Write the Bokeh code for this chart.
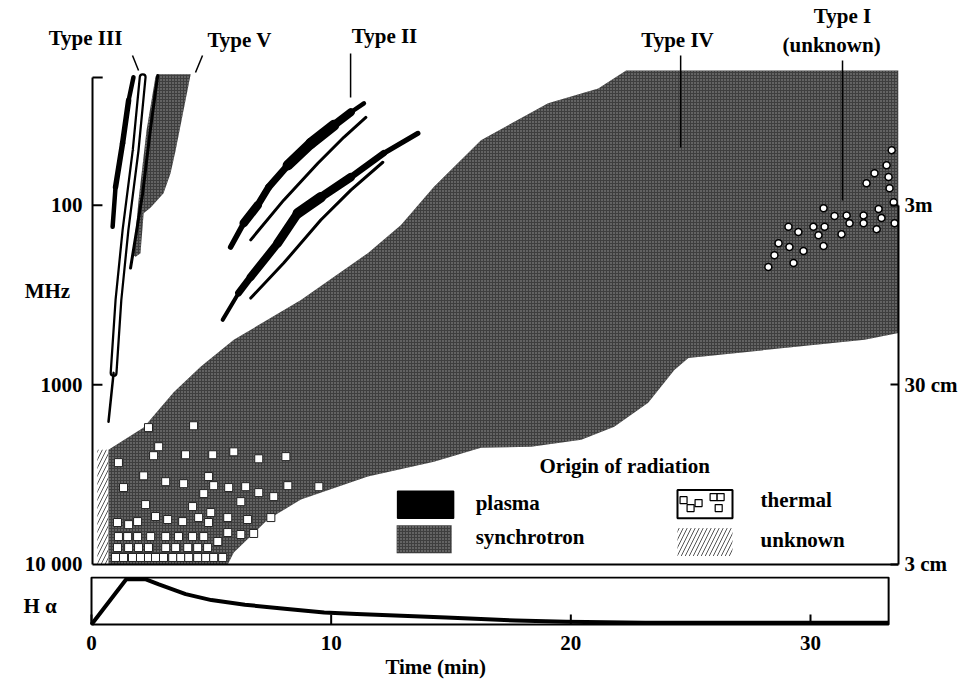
import numpy as np
from bokeh.plotting import figure
from bokeh.models import Range1d, LinearAxis, FixedTicker
from bokeh.core.properties import value
from bokeh.layouts import column
from bokeh.embed import file_html
from bokeh.resources import INLINE

FONT = "Liberation Serif"

# ---------------- data (time in min, frequency in MHz) ----------------
# synchrotron continuum (Type IV) outline
sync_t = [0.66, 2.11, 3.35, 4.46, 5.83, 8.60, 11.36, 12.73, 14.09, 16.03, 18.80, 20.87, 22.02, 33.26,
          33.26, 31.86, 24.59, 24.01, 22.93, 21.53, 20.17, 18.10, 16.03, 14.09, 11.36, 8.60, 7.23,
          5.83, 5.58, 0.66]
sync_f = [2300, 1730, 1100, 794, 562, 337, 185, 129, 79, 43.5, 27.1, 22.4, 17.8, 17.8,
          514, 562, 708, 826, 1260, 1710, 2020, 2210, 2240, 2680, 3240, 4350, 5620,
          8580, 10000, 10000]

# Type V continuum (synchrotron)
typev_t = [2.73, 4.05, 3.43, 3.22, 2.93, 2.40, 2.11, 1.98, 1.78, 1.69, 1.90, 2.23, 2.60]
typev_f = [18.7, 18.7, 49.4, 66.4, 85.8, 103, 111, 185, 194, 190, 93.8, 38.3, 19.2]

# Type III bursts (plasma)
t3a_t = [1.69, 1.49, 1.24, 0.95, 0.83]
t3a_f = [19.4, 26.1, 45.3, 79.4, 132]
t3a_w = [4, 5, 6, 5, 4]
t3b_t = [2.07, 1.78, 1.36, 1.07, 0.87]
t3b_f = [19.4, 49.4, 138, 337, 858]
t3b_tail_t = [0.87, 0.66]
t3b_tail_f = [858, 1605]
t3c_t = [2.69, 2.40, 2.07, 1.57]
t3c_f = [19.0, 36.9, 85.8, 224]

# Type II bursts (plasma): fundamental bands and harmonic lanes
t2a_t = [5.70, 6.24, 6.82, 7.27, 8.06, 9.01, 9.96, 10.66, 11.20]
t2a_f = [171, 126, 100, 79.4, 60, 45.3, 35.9, 30.4, 27.1]
t2a_w = [3, 8, 9, 5, 9, 12, 10, 6, 3]
t2b_t = [6.53, 7.89, 9.30, 10.37, 11.28]
t2b_f = [156, 93.8, 58.4, 41.9, 32.5]
t2c_t = [5.37, 6.03, 6.53, 7.64, 8.47, 9.42, 10.66, 12.02, 13.43]
t2c_f = [435, 308, 251, 163, 111, 90.3, 69.8, 51.4, 39.8]
t2c_w = [3, 5, 9, 7, 11, 10, 7, 6, 4]
t2d_t = [6.53, 7.89, 9.42, 10.66, 11.98]
t2d_f = [329, 210, 121, 82.5, 57.7]

# Type I storm spots (unknown origin)
t1_t = [32.98, 32.77, 32.27, 31.94, 32.85, 32.89, 33.06, 32.44, 30.17, 30.62, 31.12, 31.82, 32.56,
        33.10, 31.82, 31.24, 30.21, 29.75, 28.72, 29.13, 30.91, 32.36, 30.17, 28.31, 28.76, 29.34,
        28.14, 28.93, 27.89, 29.96]
t1_f = [49.4, 60.0, 66.4, 75.5, 69.8, 80.5, 96.2, 105, 104, 115, 114, 114, 118,
        126, 126, 126, 132, 132, 132, 141, 145, 136, 169, 163, 171, 180,
        190, 210, 221, 147]

# thermal (microwave) emission elements
th_t = [0.95, 1.28, 1.65, 1.98, 2.31, 2.60, 2.93, 3.31, 3.64, 3.97, 4.34, 4.67, 5.00, 5.37,
        1.03, 1.49, 1.90, 2.31, 3.02, 3.43, 3.93, 4.34, 4.75,
        1.07, 1.45, 1.86, 2.40, 3.02, 3.55, 4.13, 4.59, 5.17, 5.58, 6.12, 6.65,
        1.03, 1.49, 1.86, 2.60, 3.10, 3.72, 4.38, 4.79, 4.88, 5.58, 6.40, 7.36,
        4.13, 6.12, 7.48, 2.19,
        1.28, 3.02, 3.76, 5.00, 5.62, 6.32, 6.86, 8.06, 9.34, 2.11, 4.79, 4.59,
        1.07, 2.52, 2.73, 3.84, 4.96, 5.83, 6.86, 7.98,
        2.31, 4.17]
th_f = [9140] * 14 + [8050] * 9 + \
       [6990, 6990, 6990, 6990, 6990, 6990, 6990, 6990, 7450, 6640, 6810, 6720] + \
       [5840, 6000, 5770, 5410, 5620, 5770, 5480, 5840, 5140, 5480, 5620, 5480] + \
       [4760, 4470, 4190, 4640] + \
       [3730, 3460, 3550, 3640, 3730, 3690, 3980, 3640, 3690, 3210, 3240, 4030] + \
       [2710, 2480, 2210, 2450, 2450, 2360, 2580, 2510] + \
       [1730, 1690]

# unknown-origin strip
unk_t = [0.20, 0.66]
unk_f = [2300, 10000]

# H-alpha light curve (normalised)
ha_t = [0, 1.45, 2.27, 2.81, 3.93, 5.0, 6.40, 8.06, 9.71, 11.07, 14.8, 17.7, 19.8, 23.1, 30.0, 33.26]
ha_i = [0, 0.98, 0.98, 0.87, 0.66, 0.53, 0.43, 0.34, 0.26, 0.23, 0.15, 0.085, 0.06, 0.04, 0.04, 0.04]

# axis ticks
freq_ticks = [100, 1000, 10000]
freq_labels = ["100", "1000", "10 000"]
wave_labels = ["3m", "30 cm", "3 cm"]
time_ticks = [0, 10, 20, 30]
T_END = 33.26

GRAY = "#3e3e3e"
GRAY_STYLE = dict(fill_color=GRAY, line_color=None, hatch_pattern="dot", hatch_color="#9a9a9a",
                  hatch_scale=3, hatch_weight=1)
HATCH_STYLE = dict(fill_color=None, line_color=None, hatch_pattern="/", hatch_color="#555555",
                   hatch_scale=8, hatch_weight=1)
lg = np.log10
TXT = dict(text_font=value(FONT), text_font_style="bold", text_font_size="21px", text_color="black")

# ---------------- main dynamic spectrum ----------------
p = figure(width=960, height=576, x_range=Range1d(-3.797, T_END), y_range=Range1d(4.0668, 0.8609),
           output_backend="svg", toolbar_location=None,
           x_axis_location=None, y_axis_location=None,
           min_border_left=0, min_border_right=62, min_border_top=0, min_border_bottom=0,
           outline_line_color=None)
p.grid.visible = False

p.patch(sync_t, lg(sync_f), **GRAY_STYLE)
p.patch(typev_t, lg(typev_f), **GRAY_STYLE)


def band(t, f, w):
    t = np.array(t, float)
    y = lg(np.array(f, float))
    w = np.array(w, float)
    p.segment(x0=t[:-1], y0=y[:-1], x1=t[1:], y1=y[1:],
              line_width=(w[:-1] + w[1:]) / 2, line_color="black", line_cap="round")


# Type III
band(t3a_t, t3a_f, t3a_w)
p.line(t3b_t, lg(t3b_f), line_color="black", line_width=8, line_cap="round", line_join="round")
p.line(t3b_t, lg(t3b_f), line_color="white", line_width=3.5, line_cap="round", line_join="round")
p.line(t3b_tail_t, lg(t3b_tail_f), line_color="black", line_width=2.5, line_cap="round")
p.line(t3c_t, lg(t3c_f), line_color="black", line_width=3, line_cap="round", line_join="round")

# Type II
band(t2a_t, t2a_f, t2a_w)
band(t2c_t, t2c_f, t2c_w)
p.line(t2b_t, lg(t2b_f), line_color="black", line_width=3, line_cap="round", line_join="round")
p.line(t2d_t, lg(t2d_f), line_color="black", line_width=3, line_cap="round", line_join="round")

# Type I spots
p.scatter(t1_t, lg(t1_f), marker="circle", size=7, fill_color="white", line_color="black", line_width=1.5)

# thermal squares
p.scatter(th_t, lg(th_f), marker="square", size=8, fill_color="white", line_color="#222222", line_width=1)

# unknown hatched strip
p.quad(left=unk_t[0], right=unk_t[1], top=lg(unk_f[0]), bottom=lg(unk_f[1]), **HATCH_STYLE)

# leader lines for the burst types
lead_x0 = [1.65, 4.54, 10.65, 24.27, 30.95]
lead_y0 = [1.167, 1.167, 1.156, 1.167, 1.195]
lead_x1 = [1.90, 4.25, 10.65, 24.27, 30.95]
lead_y1 = [1.250, 1.262, 1.401, 1.679, 1.974]
p.segment(lead_x0, lead_y0, lead_x1, lead_y1, line_color="black", line_width=1.5)

# left frequency axis (bracket), bottom line
f_lg = lg(freq_ticks)
p.segment([0], [1.289], [0], [4.0], line_color="black", line_width=2)
p.segment([0], [1.289], [0.42], [1.289], line_color="black", line_width=2)
p.segment([0] * 2, f_lg[:2], [0.41] * 2, f_lg[:2], line_color="black", line_width=2)
p.segment([0], [4.0], [T_END], [4.0], line_color="black", line_width=2)
p.text([-0.41] * 3, f_lg, text=freq_labels, text_align="right", text_baseline="middle", **TXT)

# right wavelength axis
yr = LinearAxis(ticker=FixedTicker(ticks=list(f_lg)), bounds=(2.0, 4.0),
                major_label_overrides={2: wave_labels[0], 3: wave_labels[1], 4: wave_labels[2]},
                major_tick_in=8, major_tick_out=0, minor_tick_in=0, minor_tick_out=0,
                axis_line_width=2, major_tick_line_width=2, axis_line_color="black",
                major_tick_line_color="black", major_label_text_color="black",
                major_label_text_font=FONT, major_label_text_font_style="bold",
                major_label_text_font_size="21px", major_label_standoff=6)
p.add_layout(yr, "right")

# labels
lab_x = [-0.29, 6.07, 12.05, 24.14, 30.95, 30.50, -1.86]
lab_y = [1.072, 1.083, 1.061, 1.083, 0.945, 1.111, 2.475]
lab_t = ["Type III", "Type V", "Type II", "Type IV", "Type I", "(unknown)", "MHz"]
p.text(lab_x, lab_y, text=lab_t, text_align="center", text_baseline="middle", **TXT)

# legend
p.text([21.96], [3.45], text=["Origin of radiation"], text_align="center", text_baseline="middle", **TXT)
p.quad(left=[12.59], right=[14.90], top=[3.592], bottom=[3.742], fill_color="black", line_color="black",
       line_width=1.5)
p.quad(left=[12.55], right=[14.82], top=[3.781], bottom=[3.937], **GRAY_STYLE)
p.quad(left=[24.14], right=[26.41], top=[3.586], bottom=[3.742], fill_color="white", line_color="black",
       line_width=2)
p.scatter([24.39, 24.68, 25.01, 25.63, 25.92, 25.84], [3.642, 3.686, 3.658, 3.625, 3.625, 3.686],
          marker="square", size=7, fill_color="white", line_color="black", line_width=1.2)
p.quad(left=[24.14], right=[26.41], top=[3.797], bottom=[3.953], **HATCH_STYLE)
p.text([15.81, 15.81, 27.57, 27.57], [3.658, 3.848, 3.642, 3.864],
       text=["plasma", "synchrotron", "thermal", "unknown"],
       text_align="left", text_baseline="middle", **TXT)

# ---------------- H-alpha panel ----------------
h = figure(width=960, height=104, x_range=Range1d(-3.797, 33.672), y_range=Range1d(-1.2153, 1.0417),
           output_backend="svg", toolbar_location=None,
           x_axis_location=None, y_axis_location=None,
           min_border_left=0, min_border_right=52, min_border_top=0, min_border_bottom=0,
           outline_line_color=None)
h.grid.visible = False
h.quad(left=[0], right=[T_END], bottom=[0], top=[1.02], fill_color=None, line_color="black", line_width=2)
h.line(ha_t, ha_i, line_color="black", line_width=4, line_join="round")
h.segment(time_ticks, [0] * 4, time_ticks, [0.217] * 4, line_color="black", line_width=2)
h.text(time_ticks, [-0.391] * 4, text=[str(v) for v in time_ticks], text_align="center",
       text_baseline="middle", **TXT)
h.text([-2.146], [0.41], text=["H α"], text_align="center", text_baseline="middle", **TXT)
h.text([14.36], [-0.933], text=["Time (min)"], text_align="center", text_baseline="middle", **TXT)

layout = column(p, h, spacing=0)
open("out.html", "w").write(file_html(layout, INLINE))
